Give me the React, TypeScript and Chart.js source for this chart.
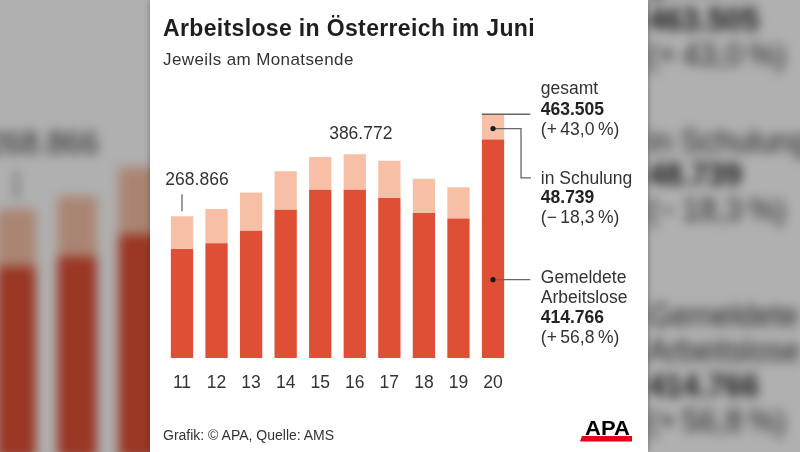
import React, { useEffect, useRef } from "react";
import { Chart, registerables } from "chart.js";

Chart.register(...registerables);

// ---- data ----
const years = ["11", "12", "13", "14", "15", "16", "17", "18", "19", "20"];
const arbeitslose = [207000, 218000, 241500, 281500, 319500, 319500, 303500, 275000, 264520, 414766];
const schulung = [61866, 64800, 72800, 72700, 62000, 67272, 71000, 65300, 59656, 48739];

const labelFirst = "268.866";
const labelPeak = "386.772";
const gesamtLines = ["gesamt", "463.505", "(+\u200943,0\u2009%)"];
const schulungLines = ["in Schulung", "48.739", "(\u2212\u200918,3\u2009%)"];
const gemeldeteLines = ["Gemeldete", "Arbeitslose", "414.766", "(+\u200956,8\u2009%)"];

const DARK = "#df4f35";
const LIGHT = "#f7c0a6";
const FONT = '"Liberation Sans", Arial, Helvetica, sans-serif';
const TEXT = "#333333";
const LINE = "#666666";

const annotationPlugin = {
  id: "apaAnnotations",
  afterDatasetsDraw(chart: any) {
    const { ctx, chartArea, scales } = chart;
    const y = scales.y;
    const meta = chart.getDatasetMeta(0);
    const n = years.length;
    const total = (i: number) => arbeitslose[i] + schulung[i];
    const fs = 17.5;
    const reg = `${fs}px ${FONT}`;
    const bold = `bold ${fs}px ${FONT}`;

    ctx.save();
    ctx.textBaseline = "alphabetic";

    // first bar label
    const b0 = meta.data[0];
    const t0 = y.getPixelForValue(total(0));
    ctx.fillStyle = TEXT;
    ctx.font = reg;
    ctx.textAlign = "center";
    ctx.fillText(labelFirst, b0.x + 15, t0 - 31);
    ctx.strokeStyle = LINE;
    ctx.lineWidth = 1.3;
    ctx.beginPath();
    ctx.moveTo(b0.x, t0 - 22);
    ctx.lineTo(b0.x, t0 - 5);
    ctx.stroke();

    // peak label (2016)
    const b5 = meta.data[5];
    const t5 = y.getPixelForValue(total(5));
    ctx.fillText(labelPeak, b5.x + 6, t5 - 15.5);

    // right-hand annotations on last bar
    const last = n - 1;
    const bl = meta.data[last];
    const tl = y.getPixelForValue(total(last));
    const al = y.getPixelForValue(arbeitslose[last]);
    const textX = chartArea.right + 30.5;
    ctx.textAlign = "left";

    // gesamt
    ctx.strokeStyle = LINE;
    ctx.lineWidth = 1.3;
    ctx.beginPath();
    ctx.moveTo(bl.x - bl.width / 2, tl + 0.5);
    ctx.lineTo(chartArea.right + 20, tl + 0.5);
    ctx.stroke();
    ctx.fillStyle = TEXT;
    ctx.font = reg;
    ctx.fillText(gesamtLines[0], textX, tl - 19.5);
    ctx.font = bold;
    ctx.fillStyle = "#222";
    ctx.fillText(gesamtLines[1], textX, tl + 1);
    ctx.font = reg;
    ctx.fillStyle = TEXT;
    ctx.fillText(gesamtLines[2], textX, tl + 21);

    // in Schulung
    const sDotY = (tl + al) / 2 + 2;
    const sTextY = y.getPixelForValue(342000);
    ctx.beginPath();
    ctx.moveTo(bl.x, sDotY);
    ctx.lineTo(chartArea.right + 10.7, sDotY);
    ctx.lineTo(chartArea.right + 10.7, sTextY);
    ctx.lineTo(chartArea.right + 20.7, sTextY);
    ctx.stroke();
    ctx.fillStyle = "#1a1a1a";
    ctx.beginPath();
    ctx.arc(bl.x, sDotY, 2.6, 0, Math.PI * 2);
    ctx.fill();
    ctx.fillStyle = TEXT;
    ctx.font = reg;
    ctx.fillText(schulungLines[0], textX, sTextY + 6);
    ctx.font = bold;
    ctx.fillStyle = "#222";
    ctx.fillText(schulungLines[1], textX, sTextY + 25.5);
    ctx.font = reg;
    ctx.fillStyle = TEXT;
    ctx.fillText(schulungLines[2], textX, sTextY + 45.5);

    // Gemeldete Arbeitslose
    const gY = y.getPixelForValue(148600);
    ctx.strokeStyle = LINE;
    ctx.beginPath();
    ctx.moveTo(bl.x, gY);
    ctx.lineTo(chartArea.right + 20, gY);
    ctx.stroke();
    ctx.fillStyle = "#1a1a1a";
    ctx.beginPath();
    ctx.arc(bl.x, gY, 2.6, 0, Math.PI * 2);
    ctx.fill();
    ctx.fillStyle = TEXT;
    ctx.font = reg;
    ctx.fillText(gemeldeteLines[0], textX, gY + 3);
    ctx.fillText(gemeldeteLines[1], textX, gY + 23);
    ctx.font = bold;
    ctx.fillStyle = "#222";
    ctx.fillText(gemeldeteLines[2], textX, gY + 43);
    ctx.font = reg;
    ctx.fillStyle = TEXT;
    ctx.fillText(gemeldeteLines[3], textX, gY + 63);

    ctx.restore();
  },
};

function Card() {
  const ref = useRef<HTMLCanvasElement | null>(null);
  useEffect(() => {
    if (!ref.current) return;
    const chart = new Chart(ref.current, {
      type: "bar",
      data: {
        labels: years,
        datasets: [
          {
            label: "Gemeldete Arbeitslose",
            data: arbeitslose,
            backgroundColor: DARK,
            borderWidth: 0,
            barPercentage: 0.645,
            categoryPercentage: 1,
          },
          {
            label: "in Schulung",
            data: schulung,
            backgroundColor: LIGHT,
            borderWidth: 0,
            barPercentage: 0.645,
            categoryPercentage: 1,
          },
        ],
      },
      options: {
        responsive: false,
        animation: false,
        devicePixelRatio: 1,
        layout: { padding: { left: 14.7, right: 137.7, top: 84, bottom: 51 } },
        plugins: {
          legend: { display: false },
          tooltip: { enabled: false },
          title: { display: false },
        },
        scales: {
          x: {
            stacked: true,
            grid: { display: false },
            border: { display: false },
            ticks: { color: TEXT, padding: 7, font: { family: FONT, size: 17.5 } },
          },
          y: { stacked: true, display: false, min: 0, max: 520000 },
        },
      },
      plugins: [annotationPlugin],
    } as any);
    return () => chart.destroy();
  }, []);

  return (
    <div style={{ position: "absolute", left: 0, top: 0, width: 498, height: 452, background: "#ffffff", overflow: "hidden" }}>
      <canvas ref={ref} width={498} height={452} style={{ position: "absolute", left: 0, top: 0, width: 498, height: 452 }} />
      <div
        style={{
          position: "absolute", left: 13, top: 17.2, fontFamily: FONT, fontWeight: "bold",
          fontSize: 23, lineHeight: 1, letterSpacing: 0.35, color: "#1e1e1e", whiteSpace: "nowrap",
        }}
      >
        Arbeitslose in Österreich im Juni
      </div>
      <div
        style={{
          position: "absolute", left: 13, top: 50.6, fontFamily: FONT, fontSize: 17,
          lineHeight: 1, letterSpacing: 0.4, color: TEXT, whiteSpace: "nowrap",
        }}
      >
        Jeweils am Monatsende
      </div>
      <div
        style={{
          position: "absolute", left: 13, top: 428, fontFamily: FONT, fontSize: 14,
          lineHeight: 1, color: TEXT, whiteSpace: "nowrap",
        }}
      >
        Grafik: © APA, Quelle: AMS
      </div>
      <div style={{ position: "absolute", left: 430, top: 436, width: 52, height: 5.5, background: "#e3001b", clipPath: "polygon(2px 0, 100% 0, 100% 100%, 0 100%)" }} />
      <div
        style={{
          position: "absolute", left: 435, top: 418.1, fontFamily: FONT, fontWeight: "bold",
          fontSize: 20, lineHeight: 1, color: "#000", whiteSpace: "nowrap",
          transform: "scaleX(1.1)", transformOrigin: "0 0",
        }}
      >
        APA
      </div>
    </div>
  );
}

export default function App() {
  return (
    <div style={{ position: "fixed", left: 0, top: 0, width: 800, height: 452, overflow: "hidden", background: "#b0b0b0" }}>
      <div style={{ position: "absolute", left: 0, top: 0, width: 800, height: 452, filter: "blur(5.5px) brightness(0.69)" }}>
        <div style={{ position: "absolute", left: 150, top: 0, width: 498, height: 452, transform: "scale(1.76)", transformOrigin: "250px 226px" }}>
          <Card />
        </div>
      </div>
      <div style={{ position: "absolute", left: 150, top: 0, width: 498, height: 452, boxShadow: "0 0 6px rgba(0,0,0,0.35)" }}>
        <Card />
      </div>
    </div>
  );
}
